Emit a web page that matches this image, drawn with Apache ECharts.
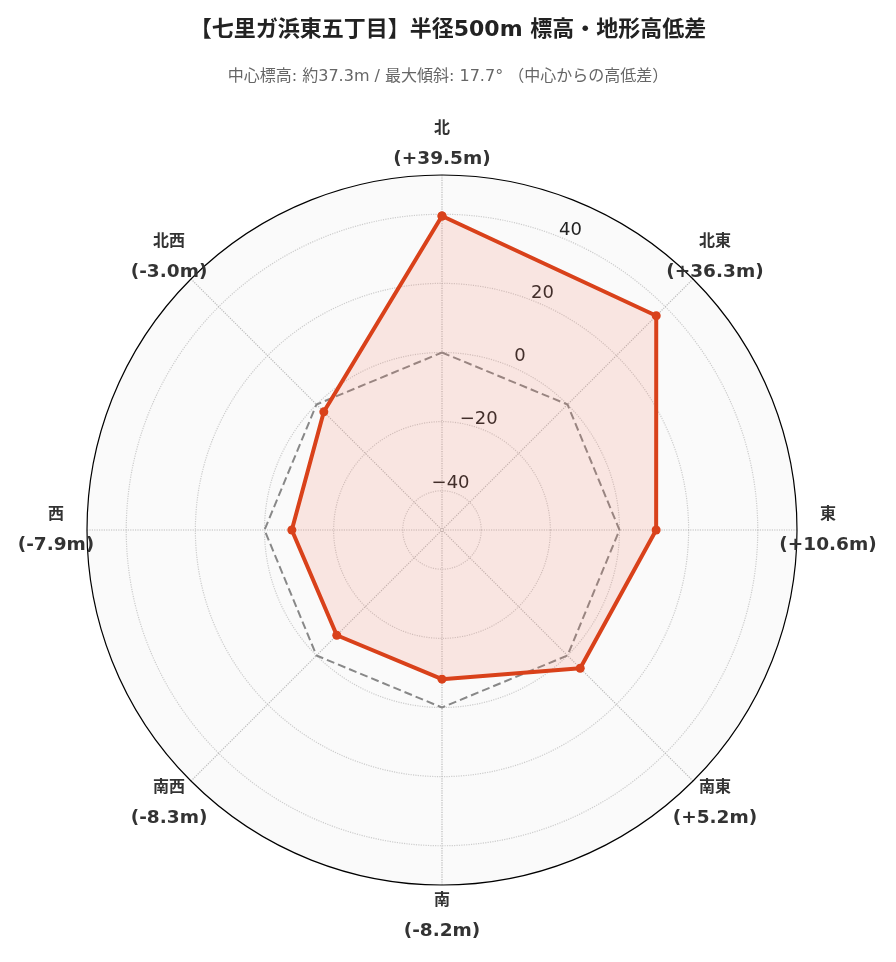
<!DOCTYPE html>
<html><head><meta charset="utf-8">
<script src="https://cdn.jsdelivr.net/npm/echarts@6/dist/echarts.min.js"></script>
<style>html,body{margin:0;padding:0;background:#fff}#chart{width:896px;height:962px}</style>
</head><body><div id="chart"></div>
<script>
var directions = ['北', '北東', '東', '南東', '南', '南西', '西', '北西'];
var diffs = [39.5, 36.3, 10.6, 5.2, -8.2, -8.3, -7.9, -3.0];
var baseline = [0, 0, 0, 0, 0, 0, 0, 0];
var rMax = 51.35;
var tickMin = -40, tickMax = 40;

function toPts(vals) {
    var pts = [];
    for (var i = 0; i <= vals.length; i++) {
        var k = i % vals.length;
        pts.push([vals[k], i * 45]);
    }
    return pts;
}
function fmtDiff(v) {
    return '(' + (v >= 0 ? '+' : '') + v.toFixed(1) + 'm)';
}

var R = 355;
var pxPerUnit = R / (2 * rMax);
var innerR = R / 2 + tickMin * pxPerUnit;
var outerR = R / 2 + tickMax * pxPerUnit;
var labShift = 15;
var dirLabelR = 386;

var dirPts = directions.map(function (d, i) { return [1, i * 45]; });

var chart = echarts.init(document.getElementById('chart'));
chart.setOption({
    textStyle: { fontFamily: '"DejaVu Sans", "Noto Sans CJK JP", sans-serif' },
    title: {
        text: '【七里ガ浜東五丁目】半径500m 標高・地形高低差',
        subtext: '中心標高: 約37.3m / 最大傾斜: 17.7° （中心からの高低差）',
        left: 'center', top: 14, itemGap: 28,
        textStyle: { fontSize: 22, fontWeight: 'bold', color: '#222' },
        subtextStyle: { fontSize: 16, color: '#666' }
    },
    polar: [
        { center: [442, 530], radius: R },
        { center: [442, 530], radius: [innerR, outerR] },
        { center: [442, 530], radius: [innerR + labShift, outerR + labShift] },
        { center: [442, 530], radius: dirLabelR }
    ],
    angleAxis: [{
        polarIndex: 0, type: 'value', min: 0, max: 360, interval: 45,
        startAngle: 90, clockwise: true,
        axisLine: { lineStyle: { color: '#000', width: 1.2 } },
        axisTick: { show: false }, axisLabel: { show: false },
        splitLine: { lineStyle: { color: '#bbb', type: 'dotted', width: 1.2 } }
    }, {
        polarIndex: 1, type: 'value', min: 0, max: 360, startAngle: 90, show: false
    }, {
        polarIndex: 2, type: 'value', min: 0, max: 360, startAngle: 66, show: false
    }, {
        polarIndex: 3, type: 'value', min: 0, max: 360, startAngle: 90, show: false
    }],
    radiusAxis: [{
        polarIndex: 0, min: -rMax, max: rMax,
        axisLine: { show: false }, axisTick: { show: false }, axisLabel: { show: false },
        splitLine: { show: false },
        splitArea: { show: true, areaStyle: { color: ['#fafafa'] } }
    }, {
        polarIndex: 1, min: tickMin, max: tickMax, interval: 20,
        axisLine: { show: false }, axisTick: { show: false }, axisLabel: { show: false },
        splitLine: { lineStyle: { color: '#ccc', type: 'dotted', width: 1.2 } }
    }, {
        polarIndex: 2, min: tickMin, max: tickMax, interval: 20,
        axisLine: { show: false }, axisTick: { show: false }, splitLine: { show: false },
        axisLabel: {
            fontSize: 18, color: '#222', margin: -6,
            formatter: function (v) {
                return v < 0 ? '\u2212' + (-v) : String(v);
            }
        }
    }, {
        polarIndex: 3, min: 0, max: 1, show: false
    }],
    series: [{
        type: 'line', coordinateSystem: 'polar', polarIndex: 0,
        data: toPts(baseline), symbol: 'none', silent: true, z: 3,
        lineStyle: { color: '#888', type: 'dashed', width: 2 }
    }, {
        type: 'line', coordinateSystem: 'polar', polarIndex: 0,
        data: toPts(diffs), symbol: 'circle', symbolSize: 9, z: 4,
        itemStyle: { color: '#d9411a' },
        lineStyle: { color: '#d9411a', width: 4 },
        areaStyle: { color: 'rgba(250,120,90,0.22)', origin: 'start' }
    }, {
        type: 'scatter', coordinateSystem: 'polar', polarIndex: 3,
        data: dirPts, symbolSize: 0, silent: true,
        itemStyle: { opacity: 1 },
        label: {
            show: true, position: 'inside', align: 'center', verticalAlign: 'middle',
            color: '#333', textBorderWidth: 0,
            formatter: function (p) {
                var i = p.dataIndex;
                return '{n|' + directions[i] + '}\n{v|' + fmtDiff(diffs[i]) + '}';
            },
            rich: {
                n: { fontSize: 16, fontWeight: 'bold', color: '#333', textBorderWidth: 0, lineHeight: 30, align: 'center' },
                v: { fontSize: 18.5, fontWeight: 'bold', color: '#333', textBorderWidth: 0, lineHeight: 30, align: 'center' }
            }
        }
    }]
});
</script></body></html>
